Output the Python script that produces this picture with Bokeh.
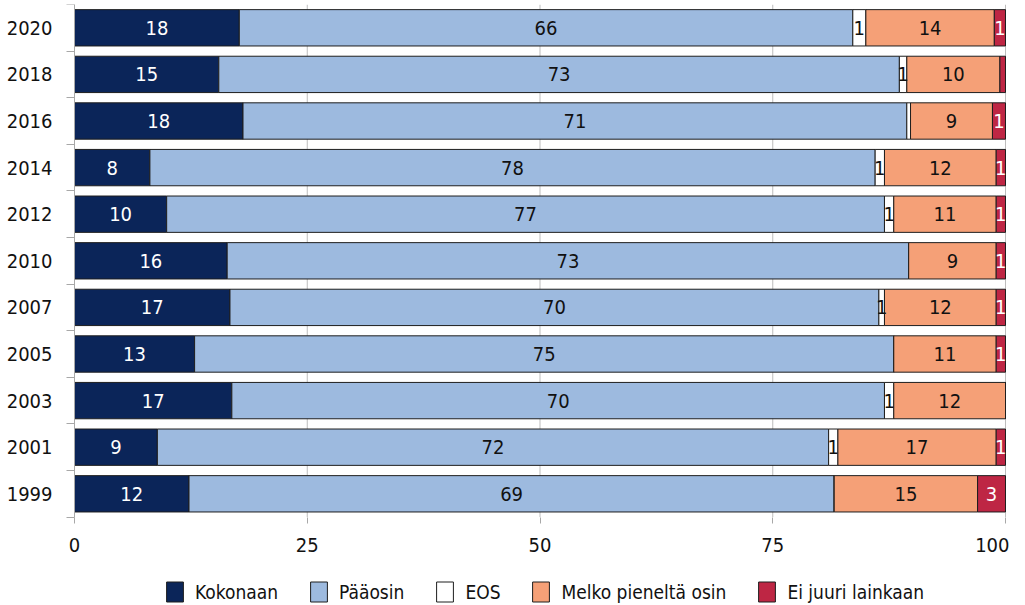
from bokeh.plotting import figure
from bokeh.models import (ColumnDataSource, Range1d, FixedTicker, Legend, LegendItem)
from bokeh.core.properties import value
from bokeh.embed import file_html
from bokeh.resources import INLINE

years = ["1999", "2001", "2003", "2005", "2007", "2010", "2012", "2014", "2016", "2018", "2020"]
series = ["Kokonaan", "Pääosin", "EOS", "Melko pieneltä osin", "Ei juuri lainkaan"]

kokonaan = [12.3, 8.9, 16.9, 12.9, 16.7, 16.4, 9.9, 8.1, 18.1, 15.5, 17.7]
paaosin = [69.3, 72.1, 70.1, 75.1, 69.7, 73.2, 77.1, 77.9, 71.3, 73.1, 65.9]
eos = [0.0, 1.0, 1.0, 0.0, 0.6, 0.0, 1.0, 1.0, 0.4, 0.8, 1.4]
melko = [15.4, 17.0, 12.0, 11.0, 12.0, 9.4, 11.0, 12.0, 8.8, 10.0, 13.8]
ei = [3.0, 1.0, 0.0, 1.0, 1.0, 1.0, 1.0, 1.0, 1.4, 0.6, 1.2]

kokonaan_lbl = ["12", "9", "17", "13", "17", "16", "10", "8", "18", "15", "18"]
paaosin_lbl = ["69", "72", "70", "75", "70", "73", "77", "78", "71", "73", "66"]
eos_lbl = ["", "1", "1", "", "1", "", "1", "1", "", "1", "1"]
melko_lbl = ["15", "17", "12", "11", "12", "9", "11", "12", "9", "10", "14"]
ei_lbl = ["3", "1", "", "1", "1", "1", "1", "1", "1", "", "1"]

x_ticks = [0, 25, 50, 75, 100]

colors = ["#0b2559", "#9dbadf", "#ffffff", "#f5a077", "#be2644"]
label_colors = ["#ffffff", "#111111", "#111111", "#111111", "#ffffff"]
FONT = "'DejaVu Sans Condensed', Roboto, sans-serif"
FS = "20px"
GRID = "#bdbdbd"
AXIS = "#a8a8a8"

values = [kokonaan, paaosin, eos, melko, ei]
labels = [kokonaan_lbl, paaosin_lbl, eos_lbl, melko_lbl, ei_lbl]
keys = ["s%d" % i for i in range(len(series))]

ypos = list(range(len(years)))
y_lo, y_hi = -0.5, len(years) - 0.5
data = {"y": ypos}
for k, v in zip(keys, values):
    data[k] = v
source = ColumnDataSource(data)

W, H = 1009, 604
PX_PER_UNIT = 9.31          # 100 units -> 931 px
X0_PX = 74                  # where x = 0 sits
PX_PER_ROW = 46.6
TOP = 4

# the frame fills the figure; axes are pinned inside it so that the legend fits too
p = figure(width=W, height=H, output_backend="svg", toolbar_location=None,
           x_range=Range1d(-X0_PX / PX_PER_UNIT, (W - X0_PX) / PX_PER_UNIT),
           y_range=Range1d(y_hi - (H - TOP) / PX_PER_ROW, y_hi),
           min_border_left=0, min_border_top=TOP, min_border_right=0, min_border_bottom=0)
p.outline_line_color = None
p.background_fill_color = "#ffffff"
p.border_fill_color = "#ffffff"
p.xgrid.grid_line_color = None
p.ygrid.grid_line_color = None

# vertical gridlines limited to the bar area
p.segment(x0=x_ticks, x1=x_ticks, y0=[y_lo] * len(x_ticks), y1=[y_hi] * len(x_ticks),
          line_color=GRID, line_width=1)

renderers = p.hbar_stack(keys, y="y", height=0.78, source=source, fill_color=colors,
                         line_color="#1e1e1e", line_width=1)

# segment labels
for i, (v, lbl) in enumerate(zip(values, labels)):
    xs, ys, ts = [], [], []
    for j in range(len(years)):
        left = sum(values[k][j] for k in range(i))
        if lbl[j]:
            xs.append(left + v[j] / 2.0)
            ys.append(ypos[j])
            ts.append(lbl[j])
    p.text(x=xs, y=ys, text=ts, text_align="center", text_baseline="middle",
           text_font=value(FONT), text_font_size=FS, text_color=label_colors[i])

# x axis drawn at the bottom of the bar area
p.xaxis.fixed_location = y_lo
p.xaxis.bounds = (x_ticks[0], x_ticks[-1])
p.xaxis.ticker = FixedTicker(ticks=x_ticks)
p.xaxis.axis_line_color = None
p.xaxis.major_tick_in = 0
p.xaxis.major_tick_out = 6
p.xaxis.major_tick_line_color = AXIS
p.xaxis.minor_tick_line_color = None
p.xaxis.major_label_text_font = FONT
p.xaxis.major_label_text_font_size = FS
p.xaxis.major_label_text_color = "#111111"
p.xaxis.major_label_standoff = 15

# y axis pinned at x = 0
p.yaxis.fixed_location = 0
p.yaxis.bounds = (y_lo, y_hi)
p.yaxis.ticker = FixedTicker(ticks=ypos, minor_ticks=[y - 0.5 for y in ypos] + [y_hi])
p.yaxis.major_label_overrides = {y: t for y, t in zip(ypos, years)}
p.yaxis.axis_line_color = AXIS
p.yaxis.major_tick_in = 0
p.yaxis.major_tick_out = 0
p.yaxis.minor_tick_in = 0
p.yaxis.minor_tick_out = 8
p.yaxis.minor_tick_line_color = AXIS
p.yaxis.major_label_text_font = FONT
p.yaxis.major_label_text_font_size = FS
p.yaxis.major_label_text_color = "#111111"
p.yaxis.major_label_standoff = 14

legend = Legend(items=[LegendItem(label=s, renderers=[r]) for s, r in zip(series, renderers)],
                orientation="horizontal", location=(164, 0))
legend.glyph_width = 21
legend.glyph_height = 25
legend.label_standoff = 10
legend.spacing = 30
legend.padding = 0
legend.margin = 0
legend.border_line_color = None
legend.background_fill_alpha = 0
legend.label_text_font = FONT
legend.label_text_font_size = "19px"
legend.label_text_color = "#111111"
legend.label_height = 25
p.add_layout(legend, "center")

open("out.html", "w").write(file_html(p, INLINE))
